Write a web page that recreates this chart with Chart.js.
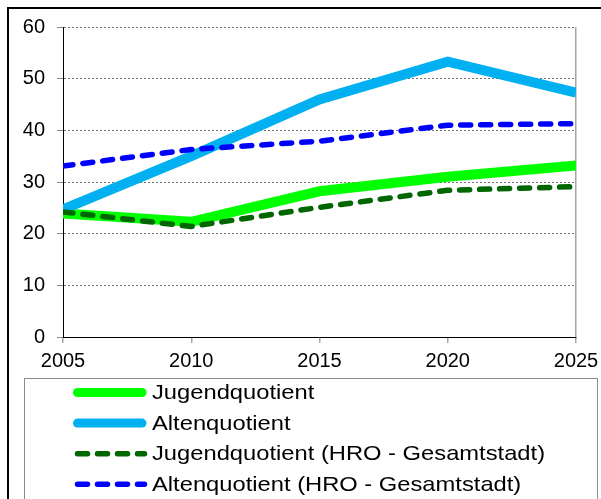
<!DOCTYPE html>
<html>
<head>
<meta charset="utf-8">
<script src="https://cdn.jsdelivr.net/npm/chart.js@4/dist/chart.umd.min.js"></script>
<style>
  html, body { margin: 0; padding: 0; background: #fff; }
  canvas { display: block; }
</style>
</head>
<body>
<canvas id="c" width="601" height="499"></canvas>
<script>
const years = [2005, 2010, 2015, 2020, 2025];
const jugend = [23.9, 22.3, 28.2, 31.0, 33.2];
const alten = [24.7, 35.0, 46.0, 53.3, 47.3];
const hroJugend = [24.2, 21.4, 25.1, 28.4, 29.1];
const hroAlten = [33.1, 36.3, 37.9, 41.0, 41.3];
const seriesLabels = [
  'Jugendquotient',
  'Altenquotient',
  'Jugendquotient (HRO - Gesamtstadt)',
  'Altenquotient (HRO - Gesamtstadt)'
];
const yTicks = [0, 10, 20, 30, 40, 50, 60];

const pts = arr => years.map((y, i) => ({ x: y, y: arr[i] }));

const legendBox = {
  id: 'legendBox',
  afterDraw(chart) {
    const ctx = chart.ctx;
    ctx.save();
    // outer frame
    ctx.strokeStyle = '#000';
    ctx.lineWidth = 2;
    ctx.strokeRect(8, 8, 800, 800);
    // legend frame
    ctx.strokeStyle = '#8c8c8c';
    ctx.lineWidth = 1;
    ctx.strokeRect(24.5, 378.5, 573, 200);
    chart.data.datasets.forEach((ds, i) => {
      const y = 392.5 + i * 30.6;
      ctx.save();
      ctx.beginPath();
      ctx.strokeStyle = ds.borderColor;
      ctx.lineCap = 'round';
      if (ds.borderDash && ds.borderDash.length) {
        ctx.lineWidth = 5.5;
        ctx.setLineDash(ds.borderDash);
        ctx.moveTo(77.5, y);
        ctx.lineTo(144.5, y);
      } else {
        ctx.lineWidth = 9;
        ctx.moveTo(77.5, y);
        ctx.lineTo(142, y);
      }
      ctx.stroke();
      ctx.restore();
      ctx.save();
      ctx.fillStyle = '#000';
      ctx.font = '21px "Liberation Sans", Arial, sans-serif';
      ctx.textBaseline = 'middle';
      ctx.translate(152, y + 1);
      ctx.scale(1.13, 1);
      ctx.fillText(ds.label, 0, 0);
      ctx.restore();
    });
    ctx.restore();
  }
};

new Chart(document.getElementById('c'), {
  type: 'line',
  data: {
    datasets: [
      { label: seriesLabels[0], data: pts(jugend), borderColor: '#00ff00', borderWidth: 10, order: 3 },
      { label: seriesLabels[1], data: pts(alten), borderColor: '#00b0f0', borderWidth: 10, order: 2 },
      { label: seriesLabels[2], data: pts(hroJugend), borderColor: '#006600', borderWidth: 5.5, borderDash: [10, 10], borderCapStyle: 'round', borderJoinStyle: 'round', order: 1 },
      { label: seriesLabels[3], data: pts(hroAlten), borderColor: '#0000ff', borderWidth: 5.5, borderDash: [10, 10], borderCapStyle: 'round', borderJoinStyle: 'round', order: 0 }
    ].map(d => Object.assign({ pointRadius: 0, pointHoverRadius: 0, tension: 0, fill: false, clip: 0 }, d))
  },
  options: {
    responsive: false,
    animation: false,
    devicePixelRatio: 1,
    layout: { padding: { left: 0, top: 27, right: 25, bottom: 122 } },
    plugins: { legend: { display: false }, tooltip: { enabled: false } },
    scales: {
      x: {
        type: 'linear',
        min: years[0],
        max: years[years.length - 1],
        afterBuildTicks: s => { s.ticks = years.map(v => ({ value: v })); },
        ticks: {
          callback: v => String(v),
          font: { family: '"Liberation Sans", Arial, sans-serif', size: 20 },
          color: '#000',
          padding: 6,
          maxRotation: 0,
          autoSkip: false
        },
        grid: {
          color: c => (c.tick && c.tick.value === years[years.length - 1]) ? '#a6a6a6' : 'rgba(0,0,0,0)',
          tickColor: '#a6a6a6',
          tickLength: 6,
          lineWidth: 1.5
        },
        border: { display: true, color: '#000', width: 1 },
        afterFit: s => { s.height = 40; s.paddingRight = 0; s.paddingLeft = 0; }
      },
      y: {
        min: 0,
        max: 60,
        afterBuildTicks: s => { s.ticks = yTicks.map(v => ({ value: v })); },
        ticks: {
          font: { family: '"Liberation Sans", Arial, sans-serif', size: 20 },
          color: '#000',
          padding: 12
        },
        grid: {
          color: '#6e6e6e',
          tickColor: '#8c8c8c',
          tickLength: 6,
          lineWidth: 1
        },
        border: { display: true, color: '#000', width: 1, dash: [2, 2] },
        afterFit: s => { s.width = 63; s.paddingTop = 0; s.paddingBottom = 0; }
      }
    }
  },
  plugins: [legendBox]
});
</script>
</body>
</html>
